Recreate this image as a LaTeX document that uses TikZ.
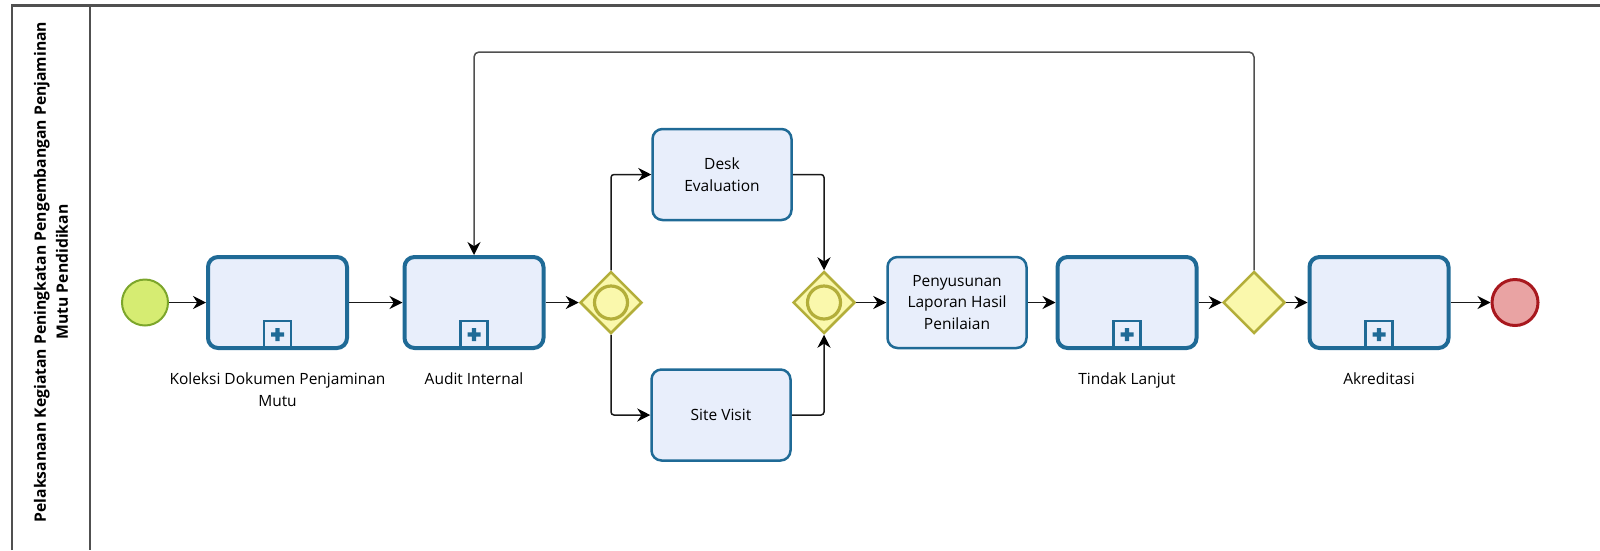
\documentclass[tikz,border=0pt]{standalone}
\usepackage{fontspec}
\setmainfont{Open Sans}
\usetikzlibrary{arrows.meta,positioning,shapes.geometric}

\definecolor{taskline}{HTML}{1F6A96}
\definecolor{taskfill}{HTML}{E8EEFB}
\definecolor{gateline}{HTML}{B3AE3A}
\definecolor{gatefill}{HTML}{FAF8AC}
\definecolor{startline}{HTML}{7CA62B}
\definecolor{startfill}{HTML}{D6EC72}
\definecolor{endline}{HTML}{A8181E}
\definecolor{endfill}{HTML}{E9A3A3}
\definecolor{laneline}{HTML}{505050}

\begin{document}
\begin{tikzpicture}[x=1pt, y=-1pt,
        font=\fontsize{15.5}{21.5}\selectfont,
        task/.style={draw=taskline, fill=taskfill, line width=2.5pt, rounded corners=10pt,
            minimum width=139pt, minimum height=91pt, align=center, inner sep=2pt},
        subtask/.style={task, line width=4pt, minimum width=139pt, minimum height=91pt,
            path picture={
                \draw[taskline, fill=taskfill, line width=2.5pt, sharp corners]
                    ([xshift=-13.5pt]path picture bounding box.south) rectangle ++(27pt,27pt);
                \fill[taskline, sharp corners]
                    ([shift={(-2.2pt,7pt)}]path picture bounding box.south) rectangle ++(4.4pt,13pt)
                    ([shift={(-6.5pt,11.3pt)}]path picture bounding box.south) rectangle ++(13pt,4.4pt);
            }},
        gate/.style={diamond, draw=gateline, fill=gatefill, line width=2.5pt,
            minimum width=62pt, minimum height=62pt, inner sep=0pt},
        orgate/.style={gate,
            path picture={
                \draw[gateline, line width=3.2pt]
                    (path picture bounding box.center) circle (16.5pt);
            }},
        event/.style={circle, minimum size=46pt, inner sep=0pt},
        lbl/.style={align=center, inner sep=0pt},
        flow/.style={-{Stealth[length=13pt, width=13pt, color=black]}, line width=1.5pt,
            draw=black!90, rounded corners=3pt}]

    \useasboundingbox (0,0) rectangle (1600,550);

    % swimlane
    \draw[laneline, line width=2.5pt] (12,550) |- (1600,5.5);
    \draw[laneline, line width=2pt] (90,5.5) -- (90,550);
    \node[rotate=90, lbl, font=\fontsize{15.7}{22}\selectfont\bfseries] (lane) at (51,272)
        {Pelaksanaan Kegiatan Peningkatan Pengembangan Penjaminan\\Mutu Pendidikan};

    \node[event, draw=startline, fill=startfill, line width=2pt] at (145,302.5)(start){};
    \node[subtask] at (277.5,302.5)(koleksi){};
    \node[subtask] at (474,302.5)(audit){};
    \node[orgate] at (611,302.5)(gw1){};
    \node[task] at (722,174.5)(desk){Desk\\Evaluation};
    \node[task] at (721,415)(site){Site Visit};
    \node[orgate] at (824,302.5)(gw2){};
    \node[task] at (957,302.5)(susun){Penyusunan\\Laporan Hasil\\Penilaian};
    \node[subtask] at (1127,302.5)(tindak){};
    \node[gate] at (1254,302.5)(gw3){};
    \node[subtask] at (1379,302.5)(akred){};
    \node[event, draw=endline, fill=endfill, line width=3pt] at (1515,302.5)(finish){};

    \node[lbl, below=23pt of koleksi] (koleksiL) {Koleksi Dokumen Penjaminan\\Mutu};
    \node[lbl, below=23pt of audit] (auditL) {Audit Internal};
    \node[lbl, below=23pt of tindak] (tindakL) {Tindak Lanjut};
    \node[lbl, below=23pt of akred] (akredL) {Akreditasi};

    \coordinate (looptop) at (860,52);

    \draw[flow] (start) -- (koleksi);
    \draw[flow] (koleksi) -- (audit);
    \draw[flow] (audit) -- (gw1);
    \draw[flow] (gw1.north) |- (desk.west);
    \draw[flow] (gw1.south) |- (site.west);
    \draw[flow] (desk.east) -| (gw2.north);
    \draw[flow] (site.east) -| (gw2.south);
    \draw[flow] (gw2) -- (susun);
    \draw[flow] (susun) -- (tindak);
    \draw[flow] (tindak) -- (gw3);
    \draw[flow] (gw3) -- (akred);
    \draw[flow] (akred) -- (finish);
    \draw[flow, draw=laneline, rounded corners=5pt] (gw3.north) |- (looptop) -| (audit.north);
\end{tikzpicture}
\end{document}
